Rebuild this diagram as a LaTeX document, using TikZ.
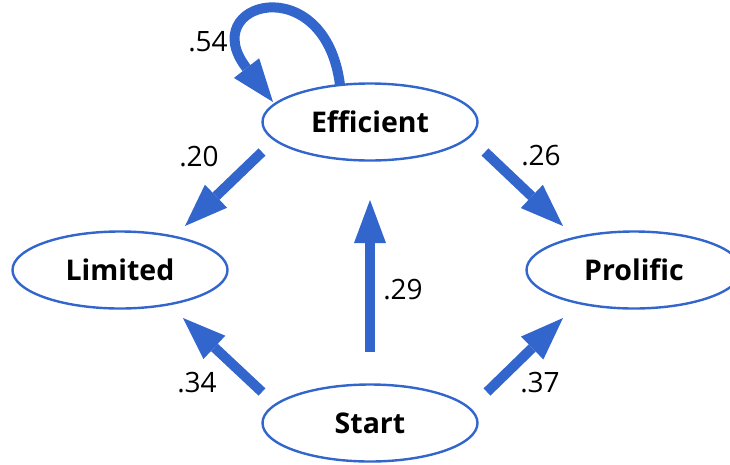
\documentclass[tikz,border=0pt]{standalone}
\usepackage{fontspec}
\setmainfont{Open Sans}
\usepackage{xcolor}
\usetikzlibrary{arrows.meta, shapes.geometric}
\definecolor{flowblue}{HTML}{3366CC}

\begin{document}
\begin{tikzpicture}[x=1pt, y=-1pt,
                    >={Triangle[length=43pt, width=32pt, line width=0pt]},
                    font=\fontsize{28}{34}\selectfont]
  \tikzstyle{stage}=[ellipse, draw=flowblue, line width=2.4pt, minimum width=215pt,
                     minimum height=77pt, inner sep=0pt,
                     font=\fontsize{28.5}{34}\selectfont\bfseries]
  \tikzstyle{flow}=[->, draw=flowblue, line width=10pt]
  \tikzstyle{prob}=[inner sep=0pt]

  \useasboundingbox (0,0) rectangle (730,464);

  \node[stage] (E) at (370,122) {Efficient};
  \node[stage] (L) at (120,270) {Limited};
  \node[stage] (P) at (634,270) {Prolific};
  \node[stage] (S) at (370,423) {Start};

  % transitions
  \draw[flow] ([shift={(-30,-37)}]E.center) .. controls +(-15,-118) and +(-78,-100) .. ([shift={(-97,-20)}]E.center);
  \draw[flow] ([shift={(-108,30)}]E.center) -- ([shift={(65,-44)}]L.center);
  \draw[flow] ([shift={(115,30)}]E.center) -- ([shift={(-71,-44)}]P.center);
  \draw[flow] ([shift={(-108,-31)}]S.center) -- ([shift={(63,48)}]L.center);
  \draw[flow] ([shift={(117,-31)}]S.center) -- ([shift={(-71,48)}]P.center);
  \draw[flow] ([shift={(0,-71)}]S.center) -- ([shift={(0,78)}]E.center);

  \node[prob] (p54) at (208,42) {.54};
  \node[prob] (p20) at (199,157) {.20};
  \node[prob] (p26) at (541,156) {.26};
  \node[prob] (p29) at (403,290) {.29};
  \node[prob] (p34) at (197,383) {.34};
  \node[prob] (p37) at (540,383) {.37};
\end{tikzpicture}
\end{document}
